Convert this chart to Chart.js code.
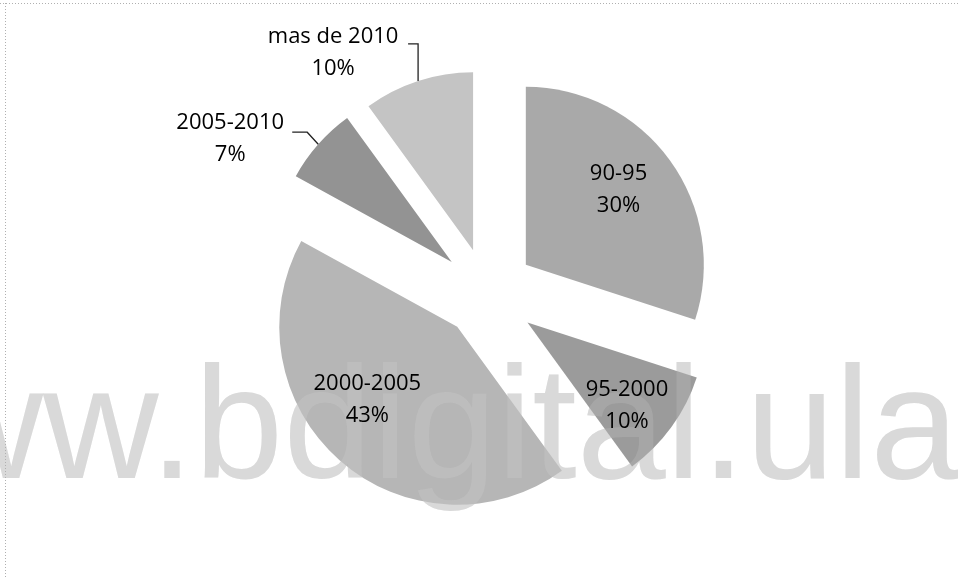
<!DOCTYPE html>
<html>
<head>
<meta charset="utf-8">
<script src="https://cdn.jsdelivr.net/npm/chart.js@4/dist/chart.umd.min.js"></script>
<style>
  html, body { margin: 0; padding: 0; background: #fff; }
  #wrap { width: 958px; height: 578px; position: relative; }
</style>
</head>
<body>
<div id="wrap"><canvas id="chart"></canvas></div>
<script>
let categories = [
  "90-95",
  "95-2000",
  "2000-2005",
  "2005-2010",
  "mas de 2010"
];
let percents = [30, 10, 43, 7, 10];

// look of each slice (same order as categories)
let sliceColors = ['#a9a9a9', '#9b9b9b', '#b6b6b6', '#939393', '#c4c4c4'];
let explode = [48, 50, 45, 47, 45];

// where the two text lines go: inside = along the slice, outside = with a leader line
let labelStyle = [
  { inside: true, frac: 0.67, turn: -3 },
  { inside: true, frac: 0.73, turn: 4 },
  { inside: true, frac: 0.65, turn: 9.6 },
  { inside: false, dx: -88, dy: -5, elbow: [-11, -12], run: 15 },
  { inside: false, dx: -85, dy: -28, elbow: [0, -37], run: 10 }
];

const FONT = "22px 'Open Sans'";
const LINE_GAP = 32;
const WATERMARK = 'www.bdigital.ula.ve';

// pull every slice out from the centre along its middle angle
let explodePlugin = {
  id: 'explode',
  afterDatasetsUpdate(chart) {
    chart.getDatasetMeta(0).data.forEach((arc, i) => {
      if (arc._exploded) return;
      let base = arc.draw;
      arc.draw = function (ctx) {
        let mid = (this.startAngle + this.endAngle) / 2;
        ctx.save();
        ctx.translate(Math.cos(mid) * explode[i], Math.sin(mid) * explode[i]);
        base.call(this, ctx);
        ctx.restore();
      };
      arc._exploded = true;
    });
  }
};

function drawWatermark(ctx, color) {
  ctx.save();
  ctx.fillStyle = color;
  ctx.font = "160px 'Liberation Sans'";
  ctx.textBaseline = 'alphabetic';
  ctx.textAlign = 'left';
  ctx.fillText(WATERMARK, -188, 478);
  ctx.restore();
}

let watermarkPlugin = {
  id: 'watermark',
  beforeDatasetsDraw(chart) {
    drawWatermark(chart.ctx, '#d6d6d6');
  },
  afterDatasetsDraw(chart) {
    drawWatermark(chart.ctx, 'rgba(235,235,235,0.15)');
  }
};

let labelPlugin = {
  id: 'sliceLabels',
  afterDraw(chart) {
    let ctx = chart.ctx;
    ctx.save();
    // scanned page frame
    ctx.strokeStyle = '#b0b0b0';
    ctx.lineWidth = 1;
    ctx.setLineDash([1, 2]);
    ctx.beginPath();
    ctx.moveTo(0, 3.5); ctx.lineTo(958, 3.5);
    ctx.moveTo(5.5, 3); ctx.lineTo(5.5, 578);
    ctx.stroke();
    ctx.setLineDash([]);

    ctx.font = FONT;
    ctx.fillStyle = '#000';
    ctx.textAlign = 'center';
    ctx.textBaseline = 'middle';
    chart.getDatasetMeta(0).data.forEach((arc, i) => {
      let st = labelStyle[i];
      let mid = (arc.startAngle + arc.endAngle) / 2;
      let tipX = arc.x + Math.cos(mid) * explode[i];
      let tipY = arc.y + Math.sin(mid) * explode[i];
      let line1 = categories[i];
      let line2 = percents[i] + '%';
      if (st.inside) {
        let a = mid + st.turn * Math.PI / 180;
        let r = arc.outerRadius * st.frac;
        let cx = tipX + Math.cos(a) * r;
        let cy = tipY + Math.sin(a) * r;
        ctx.fillText(line1, cx, cy - LINE_GAP / 2);
        ctx.fillText(line2, cx, cy + LINE_GAP / 2);
      } else {
        let ax = tipX + Math.cos(mid) * arc.outerRadius;
        let ay = tipY + Math.sin(mid) * arc.outerRadius;
        let cx = ax + st.dx;
        let cy = ay + st.dy;
        ctx.fillText(line1, cx, cy - LINE_GAP / 2);
        ctx.fillText(line2, cx, cy + LINE_GAP / 2);
        let ex = ax + st.elbow[0];
        let ey = ay + st.elbow[1];
        ctx.strokeStyle = '#222';
        ctx.lineWidth = 1.3;
        ctx.beginPath();
        ctx.moveTo(ex - st.run, ey);
        ctx.lineTo(ex, ey);
        ctx.lineTo(ax, ay);
        ctx.stroke();
      }
    });
    ctx.restore();
  }
};

let data = {
  labels: categories,
  datasets: [{
    data: percents,
    backgroundColor: sliceColors,
    borderWidth: 0,
    hoverOffset: 0
  }]
};

let config = {
  type: 'pie',
  data: data,
  options: {
    responsive: true,
    maintainAspectRatio: false,
    animation: false,
    radius: 178,
    layout: { padding: { left: 16, top: 8 } },
    plugins: {
      legend: { display: false },
      tooltip: { enabled: false }
    }
  },
  plugins: [explodePlugin, watermarkPlugin, labelPlugin]
};

let ctx = document.getElementById('chart').getContext('2d');
let myChart = new Chart(ctx, config);
</script>
</body>
</html>
